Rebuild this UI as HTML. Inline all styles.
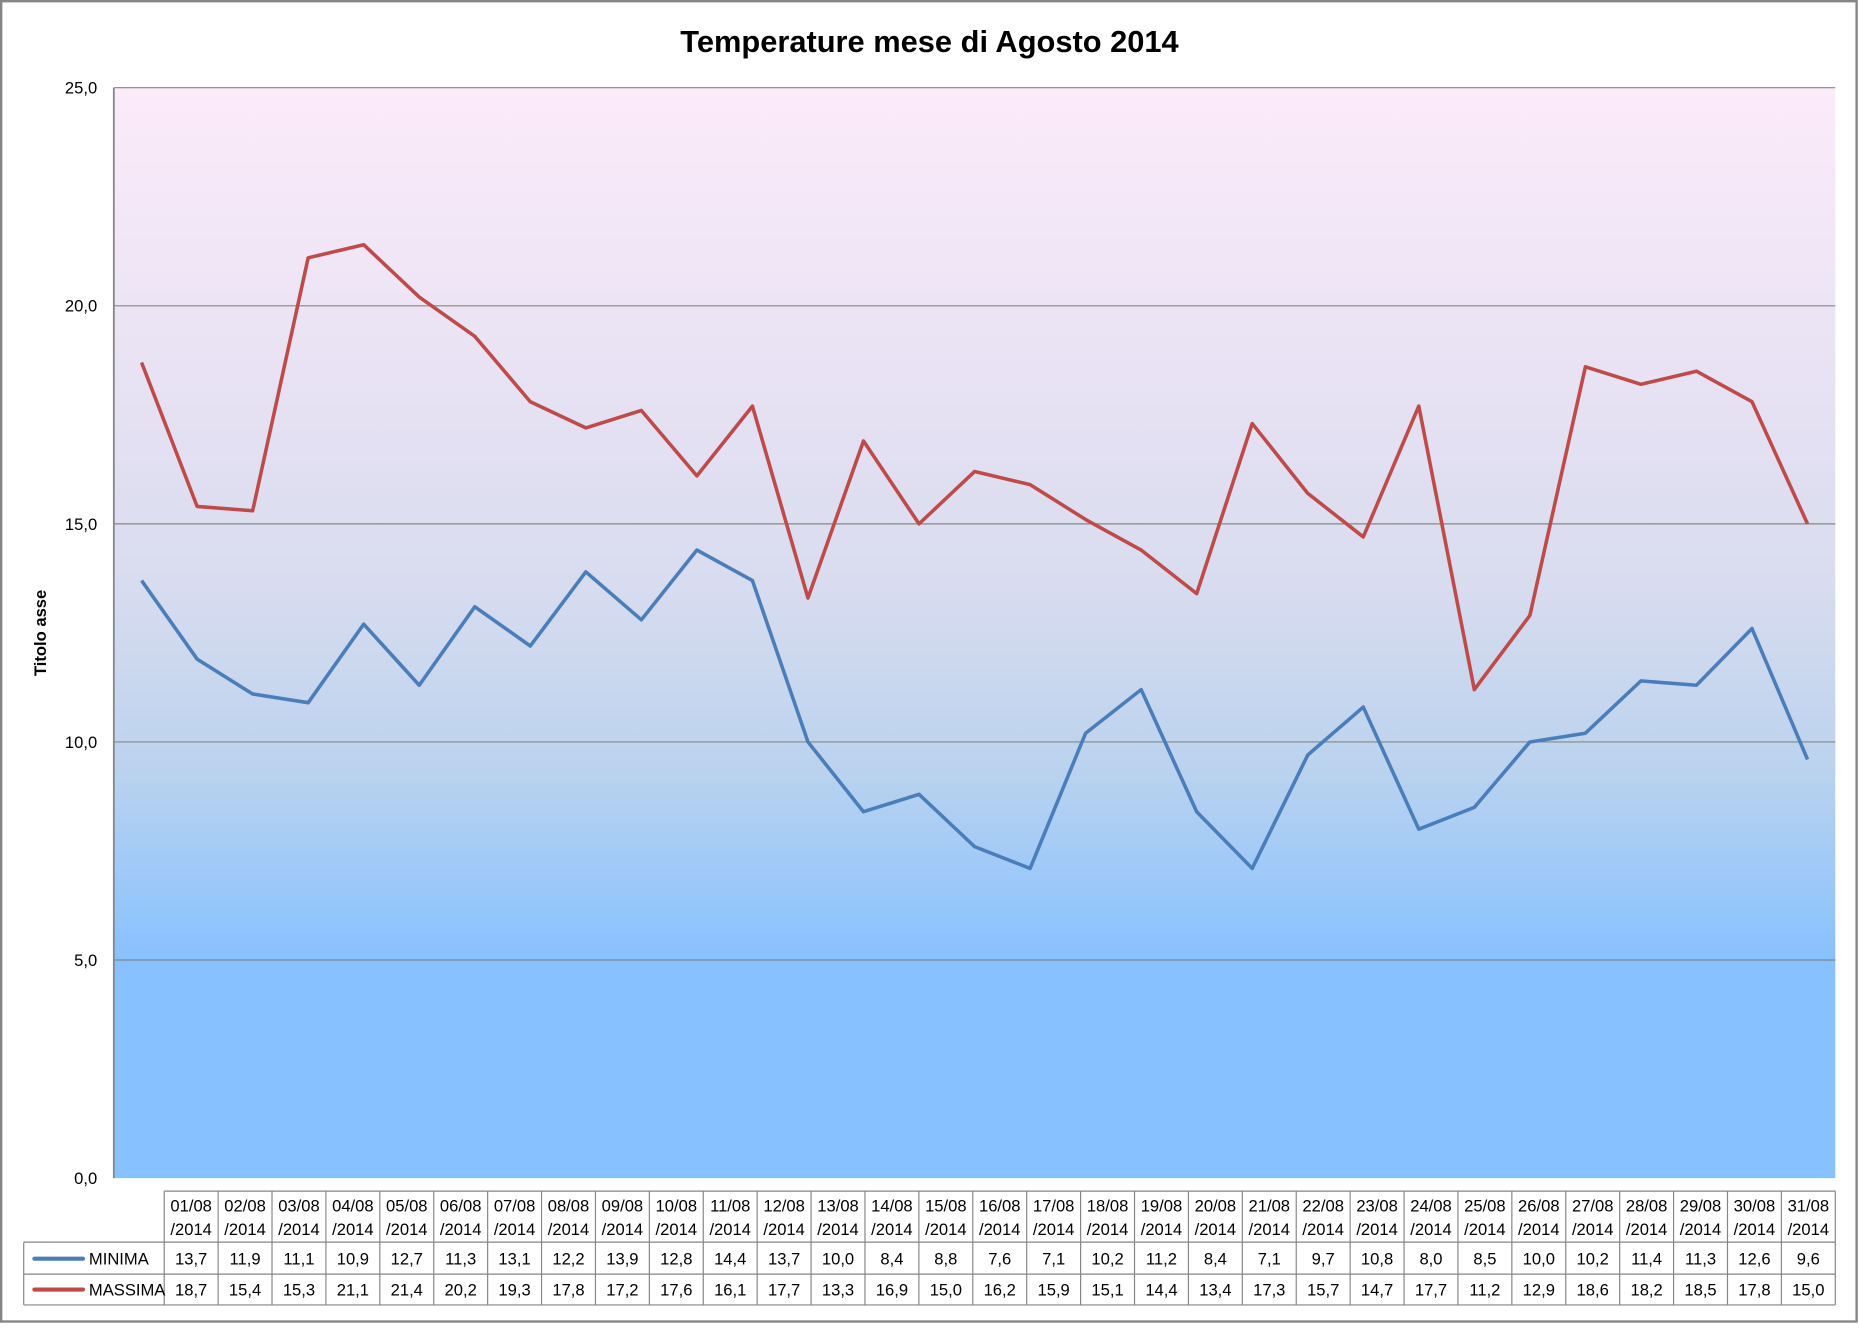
<!DOCTYPE html>
<html><head><meta charset="utf-8"><style>
html,body{margin:0;padding:0;background:#fff;}
svg{display:block;font-family:"Liberation Sans",sans-serif;}
</style></head><body>
<svg id="chart" width="1859" height="1331" viewBox="0 0 1568 1123" preserveAspectRatio="none" xmlns="http://www.w3.org/2000/svg">
<defs>
<linearGradient id="bg" x1="0" y1="0" x2="0" y2="1">
<stop offset="0" stop-color="#fcebfa"/>
<stop offset="0.45" stop-color="#d9dcef"/>
<stop offset="0.62" stop-color="#bcd3ee"/>
<stop offset="0.8" stop-color="#87c1ff"/>
<stop offset="1" stop-color="#87c1ff"/>
</linearGradient>
</defs>
<rect x="1" y="1" width="1565" height="1114" fill="#fff" stroke="#868686" stroke-width="2"/>
<text x="784" y="44" text-anchor="middle" font-size="26" font-weight="bold">Temperature mese di Agosto 2014</text>
<rect x="96" y="74" width="1452" height="920" fill="url(#bg)"/>
<g id="grid"></g>
<line x1="96" y1="74" x2="96" y2="994" stroke="#868686" stroke-width="1.5"/>
<text transform="translate(39,534) rotate(-90)" text-anchor="middle" font-size="14" font-weight="bold">Titolo asse</text>
<g id="series"></g>
<g id="table"></g>
</svg>
<script>
const categories=["01/08","02/08","03/08","04/08","05/08","06/08","07/08","08/08","09/08","10/08","11/08","12/08","13/08","14/08","15/08","16/08","17/08","18/08","19/08","20/08","21/08","22/08","23/08","24/08","25/08","26/08","27/08","28/08","29/08","30/08","31/08"];
const minima=[13.7,11.9,11.1,10.9,12.7,11.3,13.1,12.2,13.9,12.8,14.4,13.7,10.0,8.4,8.8,7.6,7.1,10.2,11.2,8.4,7.1,9.7,10.8,8.0,8.5,10.0,10.2,11.4,11.3,12.6,9.6];
const massima=[18.7,15.4,15.3,21.1,21.4,20.2,19.3,17.8,17.2,17.6,16.1,17.7,13.3,16.9,15.0,16.2,15.9,15.1,14.4,13.4,17.3,15.7,14.7,17.7,11.2,12.9,18.6,18.2,18.5,17.8,15.0];
const yTicks=[0,5,10,15,20,25];
const NS="http://www.w3.org/2000/svg";
const X0=96,X1=1548,Y0=994,Y1=74,YMAX=25;
const n=categories.length;
function xs(i){return X0+(X1-X0)/n*(i+0.5);}
function ys(v){return Y0-(Y0-Y1)*v/YMAX;}
function mk(tag,attrs,parent){const e=document.createElementNS(NS,tag);for(const k in attrs)e.setAttribute(k,attrs[k]);parent.appendChild(e);return e;}
function fmt(v){return v.toFixed(1).replace('.',',');}
const grid=document.getElementById('grid');
yTicks.forEach(t=>{
  const y=ys(t);
  if(t>0){const l=mk('line',{x1:X0,x2:X1,y1:y,y2:y,stroke:'#868686','stroke-width':1},grid);
  
  }
  const tx=mk('text',{x:82,y:y+5,'text-anchor':'end','font-size':14},grid);
  
  
  tx.textContent=fmt(t);
});
const sg=document.getElementById('series');
[[minima,'#4a7ebb','minima-line'],[massima,'#be4b48','massima-line']].forEach(([d,c,nm])=>{
  const p=mk('polyline',{points:d.map((v,i)=>xs(i)+','+ys(v)).join(' '),fill:'none',stroke:c,'stroke-width':3,'stroke-linejoin':'round'},sg);
  
  
});
// table
const tg=document.getElementById('table');
const TL=138.5,TR=1548,LL=20,H0=1005,H1=1048,R1=1075,R2=1101;
const cw=(TR-TL)/n;
const st={stroke:'#868686','stroke-width':1};
function ln(x1,y1,x2,y2){const l=mk('line',Object.assign({x1,y1,x2,y2},st),tg);

}
ln(TL,H0,TR,H0);ln(LL,H1,TR,H1);ln(LL,R1,TR,R1);ln(LL,R2,TR,R2);
ln(LL,H1,LL,R2);
for(let i=0;i<=n;i++){const x=TL+cw*i;ln(x,H0,x,R2);}
categories.forEach((c,i)=>{
  const cx=TL+cw*(i+0.5);
  const t1=mk('text',{x:cx,y:1022,'text-anchor':'middle','font-size':14},tg);
  
  
  t1.textContent=c;
  const t2=mk('text',{x:cx,y:1042,'text-anchor':'middle','font-size':14},tg);
  
  
  t2.textContent='/2014';
  const a=mk('text',{x:cx,y:1067,'text-anchor':'middle','font-size':14},tg);
  
  
  a.textContent=fmt(minima[i]);
  const b=mk('text',{x:cx,y:1093,'text-anchor':'middle','font-size':14},tg);
  
  
  b.textContent=fmt(massima[i]);
});
[['MINIMA','#4a7ebb',1062,'legend-minima'],['MASSIMA','#be4b48',1088,'legend-massima']].forEach(([t,c,y,nm])=>{
  const l=mk('line',{x1:29,x2:70,y1:y,y2:y,stroke:c,'stroke-width':3.5,'stroke-linecap':'round'},tg);
  
  
  const tx=mk('text',{x:75,y:y+5,'font-size':14},tg);
  
  
  tx.textContent=t;
});
</script>
</body></html>
